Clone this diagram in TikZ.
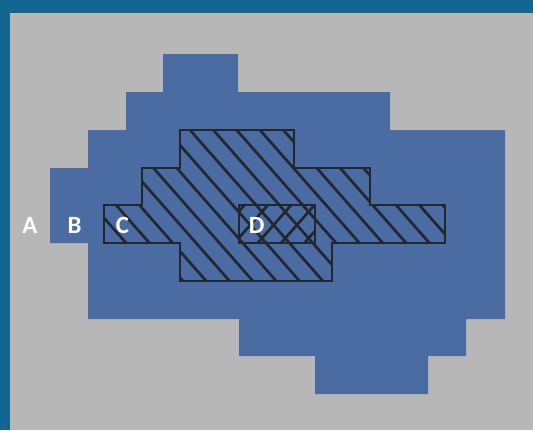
\documentclass[tikz,border=0pt]{standalone}
\usepackage{fontspec}
\setmainfont{Carlito}
\definecolor{bggray}{HTML}{B7B7B7}
\definecolor{frameblue}{HTML}{136692}
\definecolor{shapeblue}{HTML}{4B6CA2}
\definecolor{darkline}{HTML}{22262E}
\tikzset{
  outline/.style={draw=darkline, line width=2.2pt, line join=miter},
  hatchline/.style={draw=darkline, line width=2pt},
  lbl/.style={text=white, inner sep=0pt, font=\fontsize{18.6}{20}\selectfont\bfseries}
}
\begin{document}
\begin{tikzpicture}[x=0.75pt,y=-0.75pt]
\useasboundingbox (0,0) rectangle (533,430);
\fill[bggray] (0,0) rectangle (533,430);
\fill[frameblue] (0,0) rectangle (533,13);
\fill[frameblue] (0,0) rectangle (10,430);
% blue stepped region
\fill[shapeblue] (163,54) -- (238,54) -- (238,92) -- (390,92) -- (390,130) -- (505,130)
  -- (505,319) -- (466,319) -- (466,356) -- (428,356) -- (428,394) -- (315,394)
  -- (315,356) -- (239,356) -- (239,319) -- (88,319) -- (88,243) -- (50,243)
  -- (50,168) -- (88,168) -- (88,130) -- (126,130) -- (126,92) -- (163,92) -- cycle;
% hatched region
\begin{scope}
\clip (180,130) -- (294,130) -- (294,168) -- (370,168) -- (370,205) -- (445,205)
  -- (445,243) -- (332,243) -- (332,281) -- (180,281) -- (180,243) -- (104,243)
  -- (104,205) -- (142,205) -- (142,168) -- (180,168) -- cycle;
\foreach \k in {-10,...,12}
  \draw[hatchline] ({181.2+23.333*\k},120) -- ({330.8+23.333*\k},290);
\end{scope}
\begin{scope}
\clip (239,205) rectangle (315,243);
\foreach \k in {-4,...,4}
  \draw[hatchline] ({300+23.333*\k},195) -- ({247.2+23.333*\k},255);
\end{scope}
\draw[outline] (180,130) -- (294,130) -- (294,168) -- (370,168) -- (370,205) -- (445,205)
  -- (445,243) -- (332,243) -- (332,281) -- (180,281) -- (180,243) -- (104,243)
  -- (104,205) -- (142,205) -- (142,168) -- (180,168) -- cycle;
\draw[outline] (239,205) rectangle (315,243);
% labels
\node[lbl] (A) at (30,225) {A};
\node[lbl] (B) at (74.5,225) {B};
\node[lbl] (C) at (122.5,225) {C};
\node[lbl] (D) at (256.8,225) {D};
\end{tikzpicture}
\end{document}
